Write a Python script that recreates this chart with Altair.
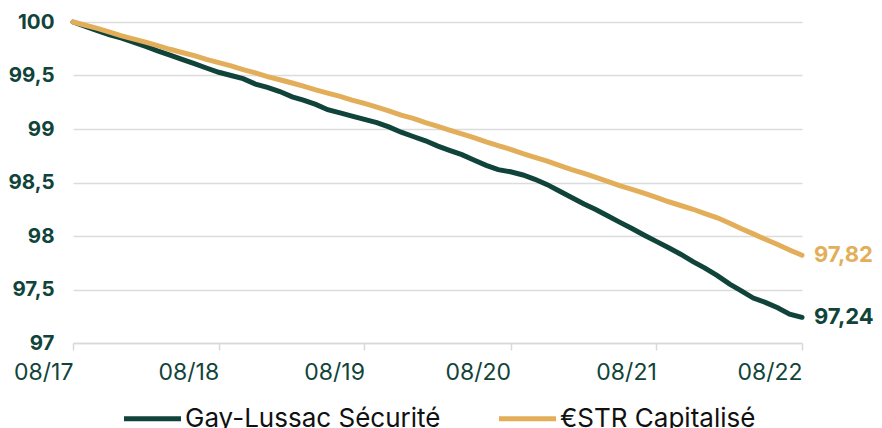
import altair as alt
import pandas as pd

# ---- data ----
months = [d.strftime("%Y-%m-%dT00:00:00") for d in pd.date_range("2017-08-01", "2022-08-01", freq="MS")]

gay_lussac = [
    100.00, 99.96, 99.92, 99.88, 99.85, 99.81, 99.77, 99.73, 99.69, 99.65, 99.61, 99.57,
    99.53, 99.50, 99.47, 99.42, 99.39, 99.35, 99.30, 99.27, 99.23, 99.18, 99.15, 99.12,
    99.09, 99.06, 99.02, 98.97, 98.93, 98.89, 98.84, 98.80, 98.76, 98.71, 98.66, 98.62,
    98.60, 98.57, 98.53, 98.48, 98.42, 98.36, 98.30, 98.25, 98.19, 98.13, 98.07, 98.01,
    97.95, 97.89, 97.83, 97.76, 97.70, 97.63, 97.55, 97.49, 97.42, 97.38, 97.33, 97.27,
    97.24,
]
estr = [
    100.00, 99.97, 99.94, 99.905, 99.87, 99.84, 99.81, 99.78, 99.745, 99.715, 99.685, 99.65,
    99.62, 99.59, 99.555, 99.525, 99.49, 99.46, 99.43, 99.40, 99.365, 99.335, 99.305, 99.27,
    99.24, 99.205, 99.17, 99.13, 99.10, 99.06, 99.025, 98.99, 98.955, 98.92, 98.88, 98.845,
    98.81, 98.77, 98.735, 98.70, 98.66, 98.62, 98.585, 98.55, 98.51, 98.47, 98.435, 98.40,
    98.36, 98.32, 98.285, 98.25, 98.21, 98.17, 98.12, 98.07, 98.02, 97.97, 97.92, 97.87,
    97.82,
]

series_names = ["Gay-Lussac Sécurité", "€STR Capitalisé"]
series_colors = ["#10443a", "#e3ae5a"]
end_labels = ["97,24", "97,82"]
x_ticks = ["2017-08-01T00:00:00", "2018-08-01T00:00:00", "2019-08-01T00:00:00",
           "2020-08-01T00:00:00", "2021-08-01T00:00:00", "2022-08-01T00:00:00"]
y_ticks = [97, 97.5, 98, 98.5, 99, 99.5, 100]

rows = []
for name, vals in zip(series_names, [gay_lussac, estr]):
    for d, v in zip(months, vals):
        rows.append({"date": d, "value": v, "series": name})
df = pd.DataFrame(rows)

last = pd.DataFrame({
    "date": [months[-1], months[-1]],
    "value": [gay_lussac[-1], estr[-1]],
    "series": series_names,
    "label": end_labels,
})

GREEN = series_colors[0]
FONT = "Inter"

x_enc = alt.X(
    "date:T",
    title=None,
    scale=alt.Scale(domain=[months[0], months[-1]]),
    axis=alt.Axis(
        values=[pd.Timestamp(t).value // 10**6 for t in x_ticks],
        format="%m/%y",
        labelFont=FONT, labelFontSize=23, labelColor=GREEN, labelAlign="right",
        labelPadding=11, tickSize=7, tickColor="#d9d9d9", tickWidth=1.5,
        domain=True, domainColor="#d9d9d9", domainWidth=1.5, grid=False,
        labelFlush=False,
    ),
)
y_enc = alt.Y(
    "value:Q",
    title=None,
    scale=alt.Scale(domain=[97, 100], nice=False, zero=False),
    axis=alt.Axis(
        values=y_ticks, format=".1~f",
        labelExpr="replace(datum.label, '.', ',')",
        labelFont=FONT, labelFontSize=20.5, labelFontWeight="bold", labelColor=GREEN,
        labelPadding=19, ticks=False, domain=False,
        grid=True, gridColor="#dcdcdc", gridWidth=1.5,
    ),
)
color_scale = alt.Scale(domain=series_names, range=series_colors)

lines = alt.Chart(df).mark_line(strokeWidth=5, strokeCap="round").encode(
    x=x_enc,
    y=y_enc,
    color=alt.Color(
        "series:N", scale=color_scale,
        legend=alt.Legend(
            title=None, orient="none", legendX=48, legendY=365,
            direction="horizontal", symbolType="stroke", symbolSize=3250,
            symbolStrokeWidth=5, labelFont=FONT, labelFontSize=26, labelLimit=500,
            labelColor="#111111", columnPadding=47, labelOffset=1,
        ),
    ),
)

labels = alt.Chart(last).mark_text(
    align="left", baseline="middle", dx=12, font=FONT, fontSize=22, fontWeight="bold"
).encode(
    x="date:T",
    y="value:Q",
    text="label:N",
    color=alt.Color("series:N", scale=color_scale, legend=None),
)

chart = alt.layer(lines, labels).properties(
    width=729, height=321,
    autosize=alt.AutoSizeParams(type="none"),
    padding={"left": 65, "top": 14, "right": 72, "bottom": 100},
).configure_view(stroke=None)

chart.save("out.html", embed_options={"renderer": "svg", "actions": False})
